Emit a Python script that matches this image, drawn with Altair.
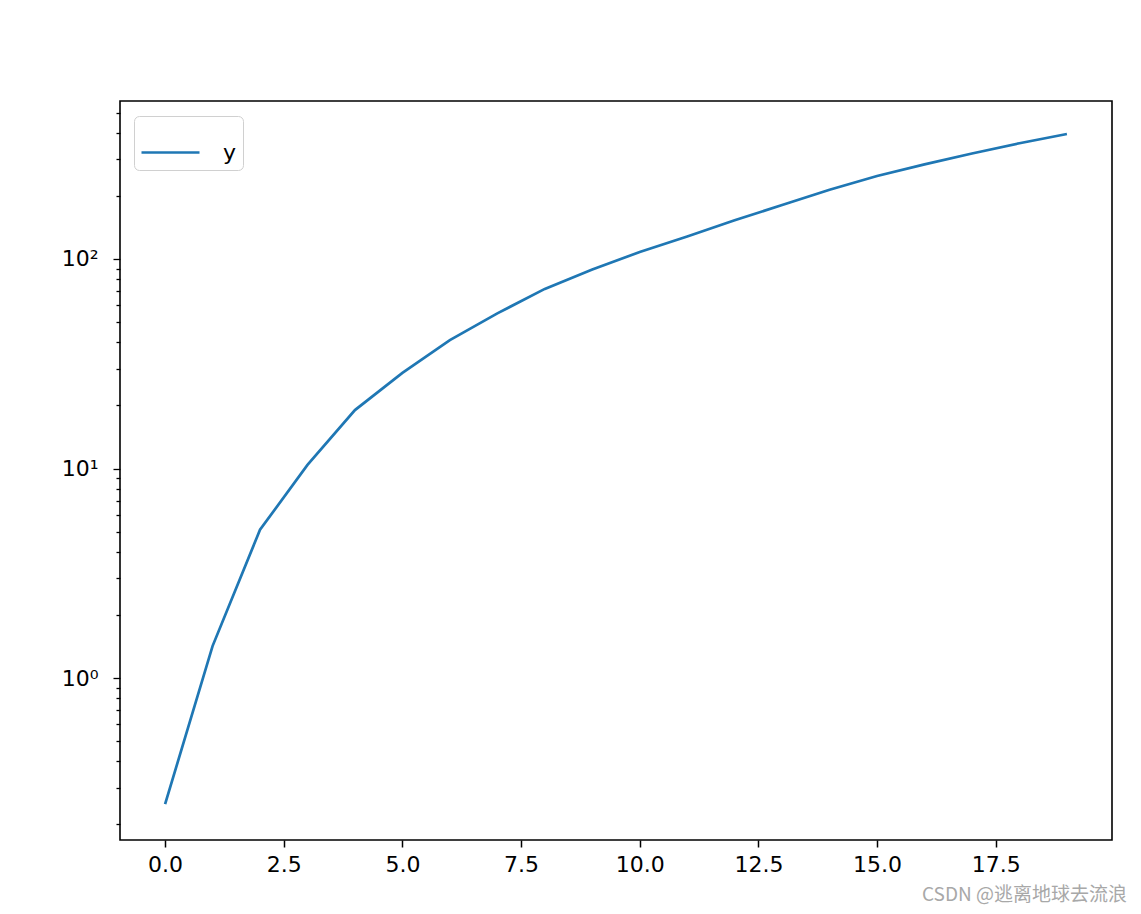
import altair as alt
import pandas as pd

# ---- data ----
x_vals = list(range(20))
y_vals = [0.25, 1.42, 5.1, 10.4, 19, 28.6, 41, 55, 72, 89, 108, 128,
          153, 181, 214, 249, 283, 319, 357, 395]
series_name = "y"
x_ticks = [0, 2.5, 5, 7.5, 10, 12.5, 15, 17.5]
y_major = [1, 10, 100]
y_minor = [0.2, 0.3, 0.4, 0.5, 0.6, 0.7, 0.8, 0.9,
           2, 3, 4, 5, 6, 7, 8, 9,
           20, 30, 40, 50, 60, 70, 80, 90,
           200, 300, 400, 500]
watermark = "CSDN @逃离地球去流浪"

df = pd.DataFrame({"x": x_vals, "y": y_vals, "series": [series_name] * len(x_vals)})

label_expr = ("datum.value == 1 ? '10⁰' : datum.value == 10 ? '10¹' : "
              "datum.value == 100 ? '10²' : ''")
major_test = "datum.value == 1 || datum.value == 10 || datum.value == 100"

line = alt.Chart(df).mark_line(strokeWidth=2.7).encode(
    x=alt.X("x:Q",
            scale=alt.Scale(domain=[-0.95, 19.95], nice=False, zero=False),
            axis=alt.Axis(values=x_ticks, format=".1f", title=None, grid=False,
                          domain=False, tickSize=7, tickWidth=1.5,
                          tickColor="black", labelPadding=7,
                          labelFlush=False, labelOverlap=False)),
    y=alt.Y("y:Q",
            scale=alt.Scale(type="log", domain=[0.1686, 567.7], nice=False),
            axis=alt.Axis(values=y_major + y_minor, labelExpr=label_expr,
                          title=None, grid=False, domain=False,
                          tickSize={"condition": {"test": major_test, "value": 7},
                                    "value": 4},
                          tickWidth=1.3, tickColor="black", labelPadding=15,
                          labelOverlap=False, labelFlush=False)),
    color=alt.Color("series:N",
                    scale=alt.Scale(domain=[series_name], range=["#1f77b4"]),
                    legend=alt.Legend(title=None, orient="none", legendX=14,
                                      legendY=15, symbolType="stroke",
                                      symbolSize=3364, symbolStrokeWidth=2.7,
                                      labelFontSize=22, labelFont="DejaVu Sans",
                                      labelColor="black", labelOffset=22,
                                      strokeColor="#d0d0d0", cornerRadius=5,
                                      fillColor="white", padding=6)),
)

wm = alt.Chart(pd.DataFrame({"t": [watermark]})).mark_text(
    align="right", baseline="middle", fontSize=19, color="#a8a8a8",
    font="Noto Sans CJK SC"
).encode(text="t:N", x=alt.value(1007), y=alt.value(794))

chart = alt.layer(line, wm).properties(
    width=992, height=739,
    padding={"left": 112, "top": 93, "right": 21, "bottom": 66},
    autosize="none",
).configure_view(
    stroke="black", strokeWidth=1.6
).configure_axis(
    labelFont="DejaVu Sans", labelFontSize=22, labelColor="black"
)

chart.save("out.html", embed_options={"renderer": "svg", "actions": False})
